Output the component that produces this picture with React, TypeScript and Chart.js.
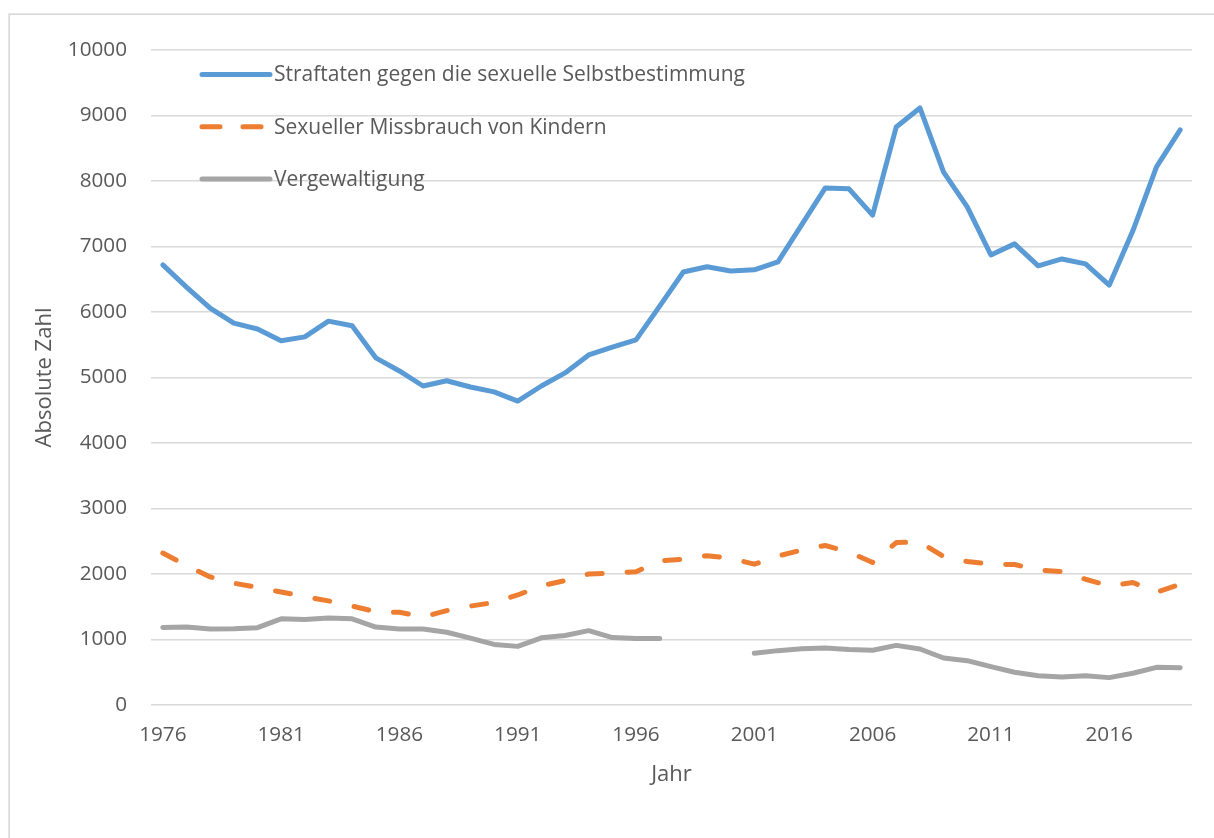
import { useEffect, useRef } from "react";
import { Chart, registerables } from "chart.js";

Chart.register(...registerables);

const years = [
  "1976", "1977", "1978", "1979", "1980", "1981", "1982", "1983", "1984", "1985",
  "1986", "1987", "1988", "1989", "1990", "1991", "1992", "1993", "1994", "1995",
  "1996", "1997", "1998", "1999", "2000", "2001", "2002", "2003", "2004", "2005",
  "2006", "2007", "2008", "2009", "2010", "2011", "2012", "2013", "2014", "2015",
  "2016", "2017", "2018", "2019",
];

const straftaten = [
  6720, 6380, 6060, 5830, 5740, 5560, 5620, 5860, 5790, 5300,
  5100, 4870, 4950, 4855, 4780, 4640, 4870, 5070, 5345, 5465,
  5575, 6090, 6610, 6690, 6625, 6645, 6765, 7330, 7895, 7880,
  7480, 8825, 9115, 8135, 7605, 6870, 7040, 6705, 6810, 6735,
  6410, 7240, 8215, 8780,
];

const missbrauch = [
  2320, 2130, 1955, 1860, 1795, 1725, 1655, 1590, 1510, 1425,
  1415, 1345, 1440, 1510, 1565, 1680, 1820, 1900, 2000, 2015,
  2035, 2200, 2225, 2280, 2240, 2150, 2275, 2365, 2435, 2335,
  2175, 2480, 2490, 2265, 2190, 2150, 2145, 2060, 2035, 1920,
  1820, 1870, 1720, 1845,
];

const vergewaltigung: (number | null)[] = [
  1185, 1190, 1160, 1165, 1180, 1315, 1305, 1330, 1315, 1190,
  1160, 1160, 1110, 1020, 925, 895, 1025, 1060, 1135, 1030,
  1015, 1015, null, null, null, 790, 830, 860, 870, 848,
  835, 910, 855, 718, 677, 585, 500, 448, 428, 448,
  418, 484, 575, 570,
];

const seriesLabels = [
  "Straftaten gegen die sexuelle Selbstbestimmung",
  "Sexueller Missbrauch von Kindern",
  "Vergewaltigung",
];

const yTicks = [0, 1000, 2000, 3000, 4000, 5000, 6000, 7000, 8000, 9000, 10000];

const FONT = "'Open Sans', 'Noto Sans', sans-serif";
const TEXT = "#595959";

const framePlugin = {
  id: "frame",
  beforeDraw(chart: any) {
    const ctx = chart.ctx;
    ctx.save();
    ctx.fillStyle = "#ffffff";
    ctx.fillRect(0, 0, chart.width, chart.height);
    ctx.strokeStyle = "#d9d9d9";
    ctx.lineWidth = 1.7;
    ctx.strokeRect(9.2, 14.2, chart.width + 50, chart.height + 50);
    ctx.restore();
  },
};

const legendPlugin = {
  id: "insideLegend",
  afterDraw(chart: any) {
    const ctx = chart.ctx;
    const area = chart.chartArea;
    const x0 = area.left + 49;
    const x1 = x0 + 72;
    ctx.save();
    chart.data.datasets.forEach((ds: any, i: number) => {
      const y = area.top + 24.5 + i * 52.3;
      ctx.beginPath();
      ctx.strokeStyle = ds.borderColor;
      ctx.lineWidth = ds.borderWidth;
      ctx.lineCap = "round";
      ctx.setLineDash(ds.legendDash || []);
      ctx.moveTo(x0 + 2, y);
      ctx.lineTo(x1 - 2, y);
      ctx.stroke();
      ctx.setLineDash([]);
      ctx.fillStyle = TEXT;
      ctx.font = `21px ${FONT}`;
      ctx.textBaseline = "middle";
      ctx.textAlign = "left";
      ctx.fillText(ds.label, x1 + 2, y + 1);
    });
    ctx.restore();
  },
};

export default function App() {
  const canvasRef = useRef<HTMLCanvasElement | null>(null);

  useEffect(() => {
    if (!canvasRef.current) return;
    const chart = new Chart(canvasRef.current, {
      type: "line",
      data: {
        labels: years,
        datasets: [
          {
            label: seriesLabels[0],
            data: straftaten,
            borderColor: "#5B9BD5",
            backgroundColor: "#5B9BD5",
            borderWidth: 5,
            pointRadius: 0,
            tension: 0,
            borderCapStyle: "round",
            borderJoinStyle: "round",
          } as any,
          {
            label: seriesLabels[1],
            data: missbrauch,
            borderColor: "#ED7D31",
            backgroundColor: "#ED7D31",
            borderWidth: 5,
            pointRadius: 0,
            tension: 0,
            borderDash: [15, 25],
            borderCapStyle: "round",
            borderJoinStyle: "round",
            legendDash: [18, 23],
          } as any,
          {
            label: seriesLabels[2],
            data: vergewaltigung,
            borderColor: "#A5A5A5",
            backgroundColor: "#A5A5A5",
            borderWidth: 5,
            pointRadius: 0,
            tension: 0,
            spanGaps: false,
            borderCapStyle: "round",
            borderJoinStyle: "round",
          } as any,
        ],
      },
      options: {
        animation: false,
        responsive: false,
        maintainAspectRatio: false,
        layout: { padding: { top: 50, right: 22, bottom: 0, left: 0 } },
        plugins: {
          legend: { display: false },
          tooltip: { enabled: false },
          title: { display: false },
        },
        scales: {
          x: {
            type: "category",
            offset: true,
            grid: { display: false, drawTicks: false },
            border: { display: false },
            ticks: {
              autoSkip: false,
              maxRotation: 0,
              minRotation: 0,
              padding: 18,
              color: TEXT,
              font: { family: FONT, size: 20.7 },
              callback: (_v: any, i: number) => (i % 5 === 0 ? years[i] : ""),
            },
            title: {
              display: true,
              text: "Jahr",
              color: TEXT,
              font: { family: FONT, size: 22 },
              padding: { top: 0, bottom: 50 },
            },
            afterFit: (scale: any) => {
              scale.height = 133;
            },
          },
          y: {
            min: 0,
            max: 10000,
            afterBuildTicks: (scale: any) => {
              scale.ticks = yTicks.map((v) => ({ value: v }));
            },
            grid: { color: "#d9d9d9", lineWidth: 1.5, drawTicks: false },
            border: { display: false },
            ticks: {
              padding: 24,
              color: TEXT,
              font: { family: FONT, size: 20.7 },
              callback: (v: any) => String(v),
            },
            title: {
              display: true,
              text: "Absolute Zahl",
              color: TEXT,
              font: { family: FONT, size: 22 },
              padding: { top: 32, bottom: 0 },
            },
            afterFit: (scale: any) => {
              scale.width = 151;
            },
          },
        },
      },
      plugins: [framePlugin, legendPlugin],
    });
    return () => chart.destroy();
  }, []);

  return (
    <div style={{ position: "absolute", left: 0, top: 0, width: 1214, height: 838, background: "#fff" }}>
      <canvas ref={canvasRef} width={1214} height={838} style={{ display: "block", width: 1214, height: 838 }} />
    </div>
  );
}
